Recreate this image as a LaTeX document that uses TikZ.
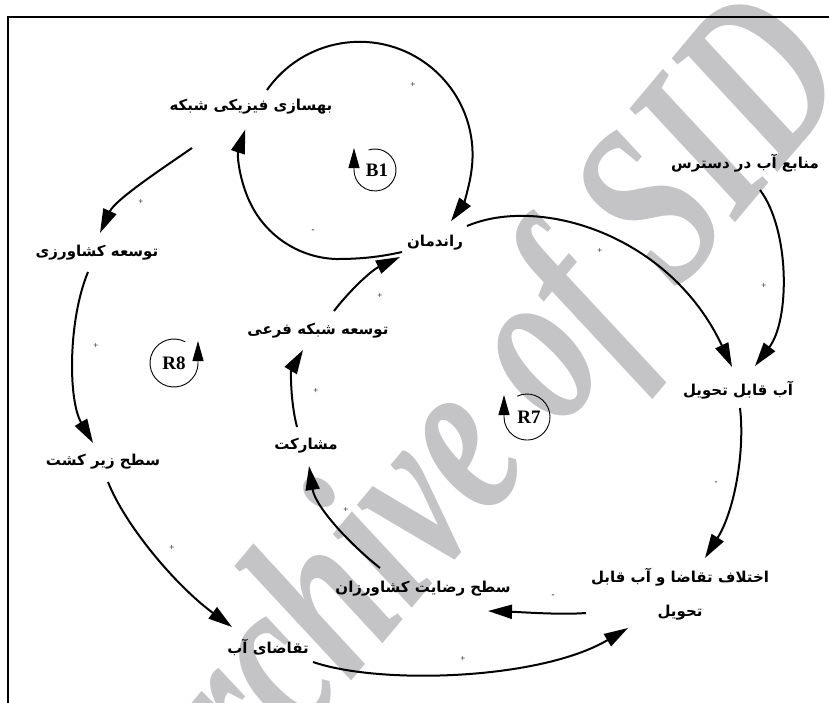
\documentclass[tikz,border=0pt]{standalone}
\usepackage{fontspec}
\usetikzlibrary{arrows.meta,calc}
\TeXXeTstate=1
\newfontfamily\fafont[Script=Arabic]{DejaVu Sans}
\setmainfont{Liberation Serif}
\definecolor{wm}{RGB}{196,196,198}
\begin{document}
\begin{tikzpicture}[x=1pt,y=-1pt,
  lbl/.style={font=\fafont\bfseries\fontsize{15}{18}\selectfont, inner sep=1pt},
  conn/.style={line width=2pt, -{Triangle[length=24pt,width=14pt]}},
  sgn/.style={font=\fontsize{9}{9}\selectfont, inner sep=0pt},
  loopsym/.style={line width=0.9pt, -{Triangle[length=20pt,width=11pt]}},
  looplbl/.style={font=\bfseries\fontsize{19}{19}\selectfont, inner sep=0pt}]
\useasboundingbox (0,0) rectangle (829,702);
\begin{scope}
\clip (0,0) rectangle (829,702);
\node[rotate=50, xscale=0.71, text=wm, inner sep=0pt, font=\bfseries\itshape\fontsize{235}{235}\selectfont] (wmark) at (478,440) {Archive of SID};
\draw[line width=2pt] (8,710) -- (8,17) -- (840,17);
\end{scope}

% variables
\node[lbl] (behsazi) at (251,107) {\beginR بهسازی فیزیکی شبکه\endR};
\node[lbl] (randeman) at (435,243) {\beginR راندمان\endR};
\node[lbl] (manabe) at (745,163) {\beginR منابع آب در دسترس\endR};
\node[lbl] (tosekesh) at (97,253) {\beginR توسعه کشاورزی\endR};
\node[lbl] (tosefari) at (318,331) {\beginR توسعه شبکه فرعی\endR};
\node[lbl] (abghabel) at (738,390) {\beginR آب قابل تحویل\endR};
\node[lbl] (mosharekat) at (306,446) {\beginR مشارکت\endR};
\node[lbl] (sath) at (103,462) {\beginR سطح زیر کشت\endR};
\node[lbl, align=center] (ekhtelaf) at (680,594) {\beginR اختلاف تقاضا و آب قابل\endR\\[16pt]\beginR تحویل\endR};
\node[lbl] (rezayat) at (423,589) {\beginR سطح رضایت کشاورزان\endR};
\node[lbl] (taghaza) at (268,647) {\beginR تقاضای آب\endR};

% loop symbols
\node[looplbl] (b1) at (377,170) {B1};
\node[looplbl] (r8) at (174,363) {R8};
\node[looplbl] (r7) at (529,417) {R7};
\draw[loopsym] ($(b1)+(-2,0)+(252:21)$) arc[start angle=252, end angle=540, radius=21] -- ++(0,-22);
\draw[loopsym] ($(r8)+(298:24)$) arc[start angle=298, end angle=0, radius=24] -- ++(0,-22);
\draw[loopsym] ($(r7)+(-2,0)+(245:23)$) arc[start angle=245, end angle=540, radius=23] -- ++(0,-22);

% connectors
\draw[conn] ($(behsazi)+(16,-17)$) arc[start angle=215, end angle=396, radius=113];
\draw[conn] ($(randeman)+(-33,9)$) .. controls ($(randeman)+(-60,15)$) and ($(randeman)+(-80,16)$) .. ($(randeman)+(-99,16)$) arc[start angle=92, end angle=198, radius=99];
\draw[conn] ($(behsazi)+(-59,41)$) .. controls ($(behsazi)+(-91,63)$) and ($(behsazi)+(-136,93)$) .. ($(tosekesh)+(3,-20)$);
\draw[conn] ($(tosekesh)+(-9,19)$) .. controls ($(tosekesh)+(-29,67)$) and ($(tosekesh)+(-29,147)$) .. ($(sath)+(-10,-19)$);
\draw[conn] ($(sath)+(5,20)$) .. controls ($(sath)+(22,63)$) and ($(sath)+(72,123)$) .. ($(taghaza)+(-36,-20)$);
\draw[conn] ($(taghaza)+(45,15)$) .. controls ($(taghaza)+(112,38)$) and ($(taghaza)+(272,33)$) .. ($(ekhtelaf)+(-52,34)$);
\draw[conn] ($(ekhtelaf)+(-94,19)$) .. controls ($(ekhtelaf)+(-120,21)$) and ($(ekhtelaf)+(-160,18)$) .. ($(rezayat)+(65,22)$);
\draw[conn] ($(rezayat)+(-43,-21)$) .. controls ($(rezayat)+(-78,-49)$) and ($(rezayat)+(-108,-84)$) .. ($(mosharekat)+(3,20)$);
\draw[conn] ($(mosharekat)+(-9,-19)$) .. controls ($(mosharekat)+(-16,-46)$) and ($(mosharekat)+(-15,-76)$) .. ($(tosefari)+(-15,19)$);
\draw[conn] ($(tosefari)+(16,-20)$) .. controls ($(tosefari)+(32,-41)$) and ($(tosefari)+(54,-61)$) .. ($(randeman)+(-35,14)$);
\draw[conn] ($(randeman)+(32,-17)$) .. controls ($(randeman)+(105,-48)$) and ($(randeman)+(235,-8)$) .. ($(abghabel)+(-6,-23)$);
\draw[conn] ($(manabe)+(15,27)$) .. controls ($(manabe)+(45,67)$) and ($(manabe)+(45,157)$) .. ($(abghabel)+(17,-24)$);
\draw[conn] ($(abghabel)+(2,18)$) .. controls ($(abghabel)+(7,60)$) and ($(abghabel)+(-3,120)$) .. ($(ekhtelaf)+(25,-36)$);

% polarity signs
\node[sgn] at (413,85) {+};
\node[sgn] at (313,231) {-};
\node[sgn] at (141,202) {+};
\node[sgn] at (96,346) {+};
\node[sgn] at (172,548) {+};
\node[sgn] at (463,659) {+};
\node[sgn] at (553,596) {-};
\node[sgn] at (346,510) {+};
\node[sgn] at (316,391) {+};
\node[sgn] at (380,296) {+};
\node[sgn] at (600,251) {+};
\node[sgn] at (764,286) {+};
\node[sgn] at (716,483) {-};
\end{tikzpicture}
\end{document}
